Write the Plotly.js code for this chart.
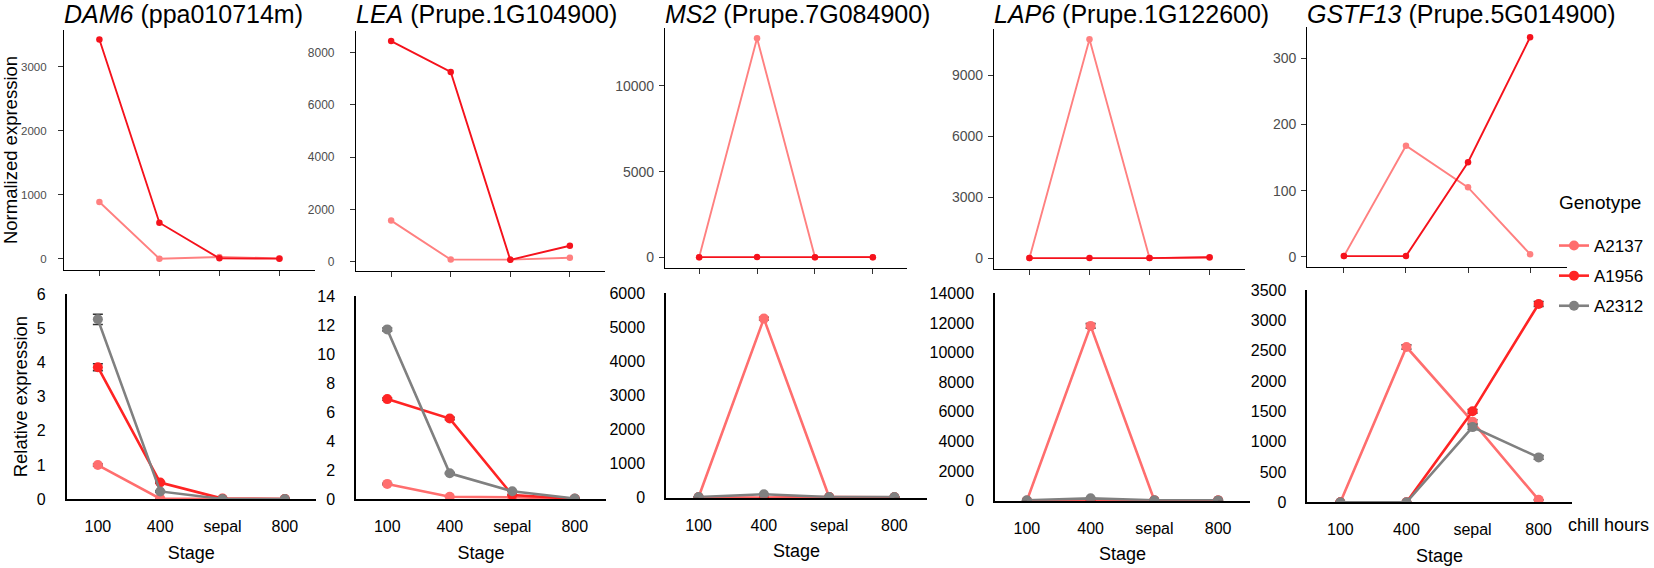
<!DOCTYPE html>
<html><head><meta charset="utf-8">
<script src="https://cdn.plot.ly/plotly-3.0.1.min.js"></script>
<style>html,body{margin:0;padding:0;background:#fff}#chart{width:1654px;height:568px}</style>
</head><body><div id="chart"></div>
<script>
// ---------------- data ----------------
const stages = ['100', '400', 'sepal', '800'];
const genotypes = ['A2137', 'A1956', 'A2312'];
const geneNames = ['DAM6', 'LEA', 'MS2', 'LAP6', 'GSTF13'];
const geneIds = ['ppa010714m', 'Prupe.1G104900', 'Prupe.7G084900', 'Prupe.1G122600', 'Prupe.5G014900'];

// Normalized expression (top row): A2137, A1956
const normDAM6_A2137 = [890, 5, 30, 10];
const normDAM6_A1956 = [3430, 567, 10, 5];
const normLEA_A2137 = [1570, 80, 80, 150];
const normLEA_A1956 = [8430, 7250, 70, 610];
const normMS2_A2137 = [10, 12780, 10, 10];
const normMS2_A1956 = [10, 15, 10, 10];
const normLAP6_A2137 = [10, 10790, 10, 40];
const normLAP6_A1956 = [10, 10, 10, 50];
const normGSTF13_A2137 = [1, 168, 105, 4];
const normGSTF13_A1956 = [1, 1, 143, 332];

// Relative expression (bottom row): A2137, A1956, A2312 (+ error)
const relDAM6_A2137 = [1.0, 0.02, 0.01, 0.01];
const relDAM6_A1956 = [3.86, 0.49, 0.02, 0.01];
const relDAM6_A2312 = [5.26, 0.23, 0.01, 0.01];
const errDAM6_A2137 = [0.03, 0, 0, 0];
const errDAM6_A1956 = [0.1, 0.02, 0, 0];
const errDAM6_A2312 = [0.15, 0.02, 0, 0];

const relLEA_A2137 = [1.06, 0.18, 0.14, 0.03];
const relLEA_A1956 = [6.9, 5.56, 0.3, 0.03];
const relLEA_A2312 = [11.7, 1.79, 0.55, 0.05];
const errLEA_A2137 = [0.05, 0, 0, 0];
const errLEA_A1956 = [0.08, 0.08, 0, 0];
const errLEA_A2312 = [0.1, 0.05, 0, 0];

const relMS2_A2137 = [20, 5250, 20, 10];
const relMS2_A1956 = [5, 0, 20, 10];
const relMS2_A2312 = [20, 100, 20, 20];
const errMS2_A2137 = [0, 40, 0, 0];
const errMS2_A1956 = [0, 0, 0, 0];
const errMS2_A2312 = [0, 10, 0, 0];

const relLAP6_A2137 = [0, 11800, 20, 20];
const relLAP6_A1956 = [0, 0, 20, 20];
const relLAP6_A2312 = [30, 160, 30, 20];
const errLAP6_A2137 = [0, 150, 0, 0];
const errLAP6_A1956 = [0, 0, 0, 0];
const errLAP6_A2312 = [0, 20, 0, 0];

const relGSTF13_A2137 = [0, 2560, 1330, 40];
const relGSTF13_A1956 = [0, 0, 1500, 3270];
const relGSTF13_A2312 = [0, 0, 1240, 740];
const errGSTF13_A2137 = [0, 35, 30, 0];
const errGSTF13_A1956 = [0, 0, 30, 40];
const errGSTF13_A2312 = [0, 0, 40, 30];

const normData = [
  [normDAM6_A2137, normDAM6_A1956],
  [normLEA_A2137, normLEA_A1956],
  [normMS2_A2137, normMS2_A1956],
  [normLAP6_A2137, normLAP6_A1956],
  [normGSTF13_A2137, normGSTF13_A1956]
];
const relData = [
  [relDAM6_A2137, relDAM6_A1956, relDAM6_A2312],
  [relLEA_A2137, relLEA_A1956, relLEA_A2312],
  [relMS2_A2137, relMS2_A1956, relMS2_A2312],
  [relLAP6_A2137, relLAP6_A1956, relLAP6_A2312],
  [relGSTF13_A2137, relGSTF13_A1956, relGSTF13_A2312]
];
const errData = [
  [errDAM6_A2137, errDAM6_A1956, errDAM6_A2312],
  [errLEA_A2137, errLEA_A1956, errLEA_A2312],
  [errMS2_A2137, errMS2_A1956, errMS2_A2312],
  [errLAP6_A2137, errLAP6_A1956, errLAP6_A2312],
  [errGSTF13_A2137, errGSTF13_A1956, errGSTF13_A2312]
];

// ---------------- styling / layout ----------------
const W = 1654, H = 568;
const FONT = 'Liberation Sans, Arial, Helvetica, sans-serif';
const topColors = ['#FF8080', '#F5121C'];
const botColors = ['#FF6E6E', '#FF2424', '#808080'];

// pixel boxes: [left, right, top, bottom]
const topBoxes = [
  [64, 314.8, 30, 270],
  [356, 605, 31, 270.7],
  [665, 907, 28, 268],
  [994, 1245, 29.3, 269.3],
  [1307.3, 1566.7, 26.7, 266.7]
];
const topRanges = [[-172, 3578], [-344, 8815], [-624, 13377], [-542, 11280], [-15, 348]];
const topDticks = [1000, 2000, 5000, 3000, 100];
const topTickSize = [11.5, 12, 14, 14, 14];
const topStandoff = [9, 13, 2, 2, 2];

const botBoxes = [
  [66.7, 316, 294, 499.3],
  [356, 606, 296, 499.3],
  [666, 927, 293, 497.7],
  [995, 1250, 293.3, 500.7],
  [1307.3, 1571.7, 290, 502.3]
];
const botMax = [6, 14, 6000, 14000, 3500];
const botDticks = [1, 2, 1000, 2000, 500];

const fx = v => v / W;
const fy = v => 1 - v / H;

const traces = [];
const layout = {
  width: W, height: H,
  margin: {l: 0, r: 0, t: 0, b: 0},
  paper_bgcolor: '#fff', plot_bgcolor: 'rgba(0,0,0,0)',
  font: {family: FONT, color: '#000'},
  showlegend: true,
  legend: {
    x: fx(1554), y: fy(228), xanchor: 'left', yanchor: 'top',
    bgcolor: 'rgba(0,0,0,0)', traceorder: 'grouped', tracegroupgap: 5,
    font: {family: FONT, size: 17, color: '#000'}
  },
  annotations: [],
  hovermode: 'closest'
};

for (let i = 0; i < 5; i++) {
  const n = i + 1;
  const xa = n === 1 ? 'x' : 'x' + n;
  const ya = n === 1 ? 'y' : 'y' + n;
  const b = topBoxes[i];
  for (let g = 0; g < 2; g++) {
    traces.push({
      type: 'scatter', mode: 'lines+markers',
      x: stages, y: normData[i][g], xaxis: xa, yaxis: ya,
      name: genotypes[g], legendgroup: genotypes[g], showlegend: false,
      line: {color: topColors[g], width: 1.9},
      marker: {color: topColors[g], size: 6.5}
    });
  }
  layout['xaxis' + (n === 1 ? '' : n)] = {
    domain: [fx(b[0]), fx(b[1])], anchor: ya,
    type: 'category', range: [-0.59, 3.59],
    showline: true, linecolor: '#000', linewidth: 1.2,
    ticks: 'outside', ticklen: 5, tickwidth: 1, tickcolor: '#333',
    showticklabels: false, showgrid: false, zeroline: false, fixedrange: true
  };
  const yax = {
    domain: [fy(b[3]), fy(b[2])], anchor: xa,
    range: topRanges[i], dtick: topDticks[i], tick0: 0,
    exponentformat: 'none', separatethousands: false, tickformat: 'd',
    showline: true, linecolor: '#000', linewidth: 1.2,
    ticks: 'outside', ticklen: 5, tickwidth: 1, tickcolor: '#333',
    tickfont: {family: FONT, size: topTickSize[i], color: '#4D4D4D'},
    ticklabelstandoff: topStandoff[i],
    showgrid: false, zeroline: false, fixedrange: true
  };
  if (i === 0) {
    yax.title = {text: 'Normalized expression', font: {family: FONT, size: 18.5, color: '#000'}, standoff: 4};
  }
  layout['yaxis' + (n === 1 ? '' : n)] = yax;
  layout.annotations.push({
    xref: 'paper', yref: 'paper', x: fx(b[0] - 2), y: fy(14),
    xanchor: 'left', yanchor: 'middle', showarrow: false,
    text: '<i>' + geneNames[i] + '</i> (' + geneIds[i] + ')',
    font: {family: FONT, size: 25, color: '#000'}
  });
}

for (let i = 0; i < 5; i++) {
  const n = i + 6;
  const xa = 'x' + n, ya = 'y' + n;
  const b = botBoxes[i];
  for (let g = 0; g < 3; g++) {
    traces.push({
      type: 'scatter', mode: 'lines+markers',
      x: stages, y: relData[i][g], xaxis: xa, yaxis: ya,
      name: genotypes[g], legendgroup: genotypes[g], showlegend: i === 0,
      line: {color: botColors[g], width: 2.6},
      marker: {color: botColors[g], size: 10},
      error_y: {type: 'data', array: errData[i][g], visible: true, color: '#333', thickness: 1.6, width: 5}
    });
  }
  layout['xaxis' + n] = {
    domain: [fx(b[0]), fx(b[1])], anchor: ya,
    type: 'category', range: [-0.5, 3.5],
    showline: true, linecolor: '#000', linewidth: 1.5,
    ticks: '', tickfont: {family: FONT, size: 16, color: '#000'},
    ticklabelstandoff: 12,
    title: {text: 'Stage', font: {family: FONT, size: 18, color: '#000'}, standoff: 12},
    showgrid: false, zeroline: false, fixedrange: true
  };
  const yax = {
    domain: [fy(b[3]), fy(b[2])], anchor: xa,
    range: [0, botMax[i]], dtick: botDticks[i], tick0: 0,
    exponentformat: 'none', separatethousands: false, tickformat: 'd',
    showline: true, linecolor: '#000', linewidth: 1.5,
    ticks: '', tickfont: {family: FONT, size: 16, color: '#000'},
    ticklabelstandoff: 16,
    showgrid: false, zeroline: false, fixedrange: true
  };
  if (i === 0) {
    yax.title = {text: 'Relative expression', font: {family: FONT, size: 18.5, color: '#000'}, standoff: 4};
  }
  layout['yaxis' + n] = yax;
}

layout.annotations.push({
  xref: 'paper', yref: 'paper', x: fx(1557), y: fy(202),
  xanchor: 'left', yanchor: 'middle', showarrow: false,
  text: 'Genotype', font: {family: FONT, size: 19, color: '#000'}
});
layout.annotations.push({
  xref: 'paper', yref: 'paper', x: fx(1566), y: fy(525),
  xanchor: 'left', yanchor: 'middle', showarrow: false,
  text: 'chill hours', font: {family: FONT, size: 18, color: '#000'}
});

Plotly.newPlot('chart', traces, layout, {displayModeBar: false, staticPlot: false, responsive: false});
</script></body></html>
